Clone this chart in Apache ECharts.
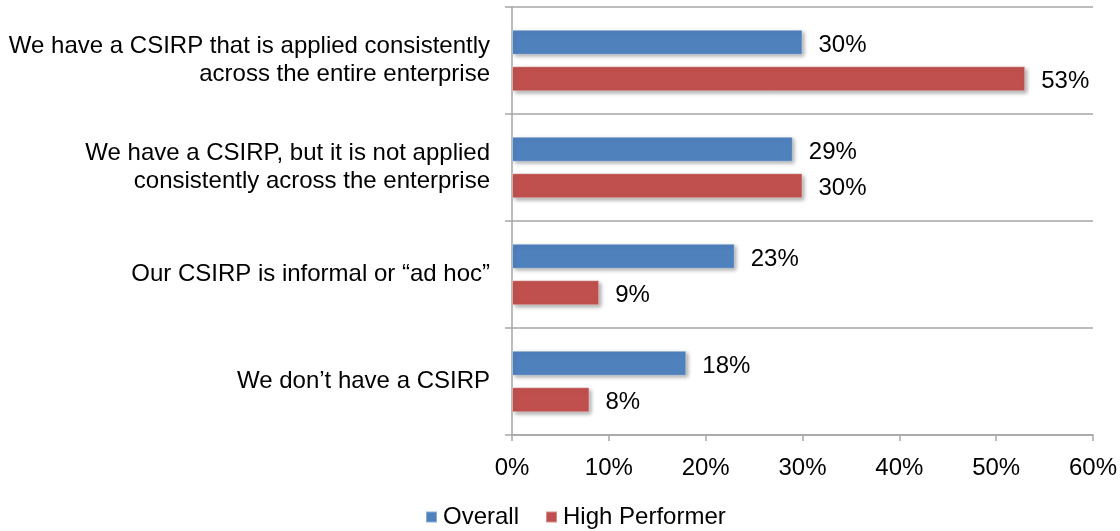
<!DOCTYPE html>
<html>
<head>
<meta charset="utf-8">
<script src="https://cdn.jsdelivr.net/npm/echarts@6/dist/echarts.min.js"></script>
<style>
  html, body { margin: 0; padding: 0; background: #fff; }
  #chart { width: 1120px; height: 531px; }
</style>
</head>
<body>
<div id="chart"></div>
<script>
// Survey answers about the cyber security incident response plan (CSIRP)
const categories = [
  'We have a CSIRP that is applied consistently\nacross the entire enterprise',
  'We have a CSIRP, but it is not applied\nconsistently across the enterprise',
  'Our CSIRP is informal or \u201cad hoc\u201d',
  'We don\u2019t have a CSIRP'
];
const seriesNames = ['Overall', 'High Performer'];
const overall = [30, 29, 23, 18];
const highPerformer = [53, 30, 9, 8];
const axisTicks = [0, 10, 20, 30, 40, 50, 60];

const FONT = '"Liberation Sans", Arial, sans-serif';
const FS = 24;
const GRAY = '#a6a6a6';

const barStyle = (color) => ({
  color: color,
  borderColor: 'rgba(255,255,255,0.35)',
  borderWidth: 1,
  shadowColor: 'rgba(0,0,0,0.35)',
  shadowBlur: 4,
  shadowOffsetX: 2,
  shadowOffsetY: 2
});

const valueLabel = {
  show: true,
  position: 'right',
  distance: 16,
  offset: [0, 3],
  formatter: (p) => p.value + '%',
  color: '#000',
  fontFamily: FONT,
  fontSize: FS
};

const chart = echarts.init(document.getElementById('chart'));
chart.setOption({
  animation: false,
  grid: { left: 512, right: 27, top: 7, bottom: 96, containLabel: false },
  legend: {
    data: seriesNames,
    top: 505,
    left: 425,
    padding: 0,
    itemWidth: 11,
    itemHeight: 11,
    itemGap: 26,
    icon: 'rect',
    textStyle: { fontFamily: FONT, fontSize: FS, color: '#000', padding: [0, 0, 0, 1] }
  },
  xAxis: {
    type: 'value',
    min: axisTicks[0],
    max: axisTicks[axisTicks.length - 1],
    interval: 10,
    axisLine: { show: true, lineStyle: { color: GRAY, width: 1.5 } },
    axisTick: { show: true, length: 6, lineStyle: { color: GRAY, width: 1.5 } },
    splitLine: { show: false },
    axisLabel: {
      formatter: (v) => v + '%',
      fontFamily: FONT, fontSize: FS, color: '#000', margin: 21
    }
  },
  yAxis: {
    type: 'category',
    inverse: true,
    data: categories,
    axisLine: { show: true, lineStyle: { color: GRAY, width: 1.5 } },
    axisTick: { show: true, length: 7, lineStyle: { color: GRAY, width: 1.5 } },
    splitLine: { show: true, lineStyle: { color: GRAY, width: 1.5 } },
    axisLabel: {
      fontFamily: FONT, fontSize: FS, color: '#000',
      lineHeight: 28, margin: 22, align: 'right',
      padding: [6, 0, 0, 0]
    }
  },
  series: [
    {
      name: seriesNames[0],
      type: 'bar',
      data: overall,
      barWidth: 25,
      barGap: '46%',
      itemStyle: barStyle('#4f81bd'),
      label: valueLabel
    },
    {
      name: seriesNames[1],
      type: 'bar',
      data: highPerformer,
      barWidth: 25,
      barGap: '46%',
      itemStyle: barStyle('#c0504d'),
      label: valueLabel
    }
  ]
});
</script>
</body>
</html>
